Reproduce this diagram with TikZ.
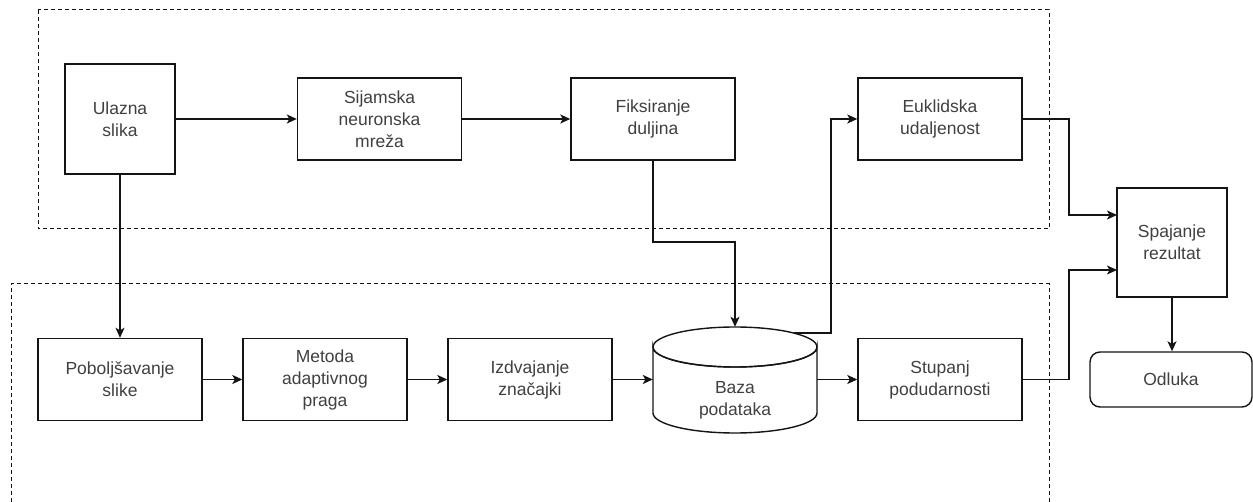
\documentclass[tikz,border=0pt]{standalone}
\usepackage{fontspec}
\setmainfont{Liberation Sans}
\usetikzlibrary{arrows.meta,calc}
\definecolor{txt}{RGB}{64,64,64}
\definecolor{ln}{RGB}{20,20,20}
\tikzset{
  box/.style={draw=ln, line width=1.4pt, fill=white, align=center, text=txt,
    font=\fontsize{17.5}{22}\selectfont, inner sep=0pt,
    minimum width=164pt, minimum height=82pt},
  sqbox/.style={box, minimum width=110pt, minimum height=110pt},
  ghost/.style={inner sep=0pt, minimum width=164pt, minimum height=106pt},
  conn/.style={draw=ln, line width=1.4pt, -{Stealth[length=10pt,width=9pt,inset=2.5pt]}},
  group/.style={draw=ln, line width=1pt, dash pattern=on 4pt off 3pt},
}
\begin{document}
\begin{tikzpicture}[x=1pt,y=-1pt]
\useasboundingbox (0,0) rectangle (1253,502);
% groups
\draw[group] (38,10) rectangle (1049,229);
\draw[group] (11,502) -- (11,284) -- (1049,284) -- (1049,502);
% top row
\node[sqbox] (ulazna) at (120,119) {Ulazna\\slika};
\node[box] (sijam) at (379.5,119) {Sijamska\\neuronska\\mreža};
\node[box] (fiks) at (653,119) {Fiksiranje\\duljina};
\node[box] (euk) at (940,119) {Euklidska\\udaljenost};
% right column
\node[sqbox, minimum height=109pt] (spaj) at (1172,242.5) {Spajanje\\rezultat};
\node[box, rounded corners=10pt, minimum width=162pt, minimum height=55pt] (odluka) at (1171,379.5) {Odluka};
% bottom row
\node[box] (pob) at (120,379.5) {Poboljšavanje\\slike};
\node[box] (met) at (325,379.5) {Metoda\\adaptivnog\\praga};
\node[box] (izd) at (530,379.5) {Izdvajanje\\značajki};
\node[ghost] (baza) at (735,380) {};
\draw[draw=ln, line width=1.4pt, fill=white]
  (653,347) arc[start angle=180, end angle=360, x radius=82, y radius=-20]
  -- (817,413) arc[start angle=0, end angle=-180, x radius=82, y radius=-20] -- cycle;
\draw[draw=ln, line width=1.4pt] (735,347) ellipse[x radius=82, y radius=20];
\node[align=center, text=txt, font=\fontsize{17.5}{22}\selectfont] (bazatxt) at (735,400) {Baza\\podataka};
\node[box] (stup) at (940,379.5) {Stupanj\\podudarnosti};
\coordinate (bazaexit) at (794,333);
% connectors
\draw[conn] (ulazna.east) -- (sijam.west);
\draw[conn] (sijam.east) -- (fiks.west);
\draw[conn] (ulazna.south) -- (pob.north);
\draw[conn] (pob.east) -- (met.west);
\draw[conn] (met.east) -- (izd.west);
\draw[conn] (izd.east) -- (izd.east -| baza.west);
\draw[conn] (baza.east |- stup.west) -- (stup.west);
\draw[conn] (fiks.south) -- (653,242) -- (735,242) -- (baza.north);
\draw[conn] (bazaexit) -- (831,333) -- (831,119) -- (euk.west);
\draw[conn] (euk.east) -- (1069,119) -- (1069,215) -- (1117,215);
\draw[conn] (stup.east) -- (1069,379.5) -- (1069,270) -- (1117,270);
\draw[conn] (spaj.south) -- (spaj.south |- odluka.north);
\end{tikzpicture}
\end{document}
